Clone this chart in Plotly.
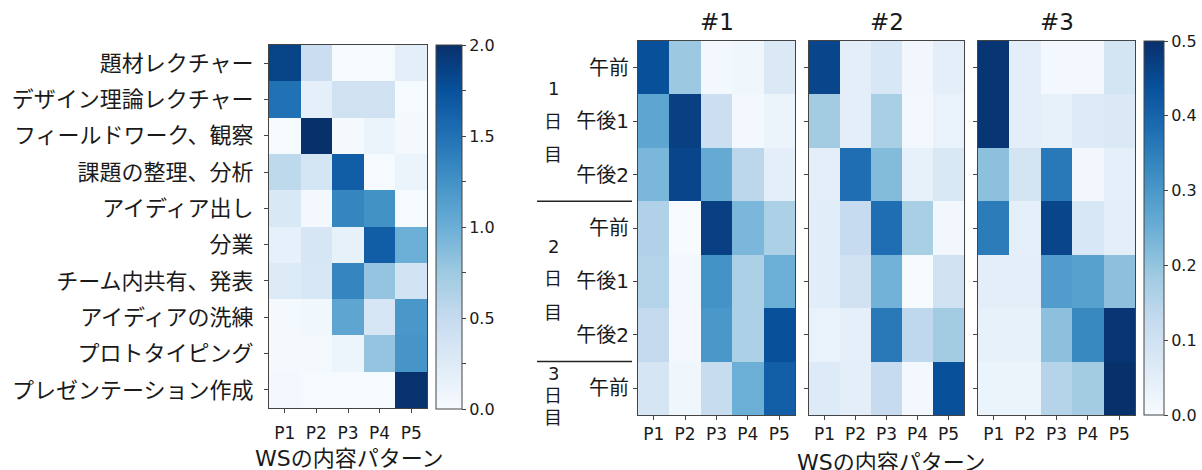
import plotly.graph_objects as go

W, H = 1202, 470

# ---- data -------------------------------------------------------------
patterns = ["P1", "P2", "P3", "P4", "P5"]

activities = [
    "題材レクチャー", "デザイン理論レクチャー", "フィールドワーク、観察",
    "課題の整理、分析", "アイディア出し", "分業", "チーム内共有、発表",
    "アイディアの洗練", "プロトタイピング", "プレゼンテーション作成",
]
activity_vals = [
    [1.85, 0.45, 0.02, 0.02, 0.20],
    [1.50, 0.18, 0.40, 0.40, 0.02],
    [0.02, 2.00, 0.03, 0.12, 0.03],
    [0.55, 0.35, 1.65, 0.02, 0.12],
    [0.30, 0.05, 1.35, 1.25, 0.02],
    [0.17, 0.33, 0.16, 1.65, 1.00],
    [0.27, 0.32, 1.35, 0.80, 0.37],
    [0.03, 0.07, 1.08, 0.33, 1.20],
    [0.03, 0.03, 0.10, 0.80, 1.22],
    [0.04, 0.02, 0.02, 0.02, 1.98],
]

sessions = ["午前", "午後1", "午後2", "午前", "午後1", "午後2", "午前"]
day_names = ["1", "2", "3"]
ws_titles = ["#1", "#2", "#3"]

ws1 = [
    [0.44, 0.19, 0.01, 0.02, 0.07],
    [0.27, 0.47, 0.11, 0.01, 0.03],
    [0.23, 0.46, 0.26, 0.14, 0.05],
    [0.16, 0.00, 0.47, 0.23, 0.165],
    [0.155, 0.01, 0.31, 0.165, 0.25],
    [0.13, 0.01, 0.30, 0.165, 0.44],
    [0.085, 0.02, 0.12, 0.25, 0.41],
]
ws2 = [
    [0.46, 0.05, 0.08, 0.015, 0.05],
    [0.18, 0.05, 0.17, 0.01, 0.035],
    [0.05, 0.38, 0.22, 0.04, 0.075],
    [0.055, 0.125, 0.38, 0.17, 0.015],
    [0.055, 0.10, 0.24, 0.005, 0.10],
    [0.035, 0.045, 0.36, 0.135, 0.18],
    [0.065, 0.05, 0.125, 0.01, 0.44],
]
ws3 = [
    [0.49, 0.05, 0.01, 0.01, 0.09],
    [0.49, 0.05, 0.04, 0.065, 0.07],
    [0.21, 0.09, 0.36, 0.015, 0.045],
    [0.355, 0.045, 0.46, 0.08, 0.05],
    [0.05, 0.05, 0.29, 0.28, 0.21],
    [0.04, 0.04, 0.21, 0.33, 0.49],
    [0.03, 0.03, 0.15, 0.18, 0.50],
]

# ---- styling ----------------------------------------------------------
BLUES = [
    [0.0, "#f7fbff"], [0.125, "#deebf7"], [0.25, "#c6dbef"],
    [0.375, "#9ecae1"], [0.5, "#6baed6"], [0.625, "#4292c6"],
    [0.75, "#2171b5"], [0.875, "#08519c"], [1.0, "#08306b"],
]
FONT = "DejaVu Sans, Noto Sans CJK JP, sans-serif"
TXT = "#1a1a1a"
FRAME = "#444444"


def px(x):
    return x / W


def py(y):
    return 1 - y / H


fig = go.Figure()

# left panel: activity vs pattern
fig.add_trace(go.Heatmap(
    z=activity_vals, x=list(range(len(patterns))), y=list(range(len(activities))),
    coloraxis="coloraxis", xaxis="x", yaxis="y",
))
# right panels: session vs pattern for each workshop
for i, z in enumerate([ws1, ws2, ws3]):
    fig.add_trace(go.Heatmap(
        z=z, x=list(range(len(patterns))), y=list(range(len(sessions))),
        coloraxis="coloraxis2", xaxis=f"x{i + 2}", yaxis=f"y{i + 2}",
    ))

axis_common = dict(
    showline=True, mirror=True, linecolor=FRAME, linewidth=1,
    ticks="outside", ticklen=4, tickwidth=1, tickcolor=FRAME,
    showgrid=False, zeroline=False,
    tickfont=dict(family=FONT, size=17, color=TXT),
)
x_common = dict(
    axis_common, range=[-0.5, len(patterns) - 0.5],
    tickvals=list(range(len(patterns))), ticktext=patterns,
)


def colorbar(x0, top, bottom, width, vals, texts):
    return dict(
        x=px(x0), xanchor="left", xref="paper", xpad=0,
        y=py(bottom), yanchor="bottom", yref="paper", ypad=0,
        len=(bottom - top) / H, lenmode="fraction",
        thickness=width, thicknessmode="pixels",
        outlinewidth=1, outlinecolor=FRAME,
        tickvals=vals, ticktext=texts,
        ticks="outside", ticklen=4, tickcolor=FRAME,
        tickfont=dict(family=FONT, size=16, color=TXT),
    )


layout = dict(
    width=W, height=H, margin=dict(l=0, r=0, t=0, b=0),
    paper_bgcolor="white", plot_bgcolor="white",
    font=dict(family=FONT, color=TXT),
    coloraxis=dict(
        colorscale=BLUES, cmin=0, cmax=2.0,
        colorbar=colorbar(
            436, 45, 409, 26,
            [0, 0.25, 0.5, 0.75, 1.0, 1.25, 1.5, 1.75, 2.0],
            ["0.0", "", "0.5", "", "1.0", "", "1.5", "", "2.0"],
        ),
    ),
    coloraxis2=dict(
        colorscale=BLUES, cmin=0, cmax=0.5,
        colorbar=colorbar(
            1144, 41, 415, 20,
            [0, 0.1, 0.2, 0.3, 0.4, 0.5],
            ["0.0", "0.1", "0.2", "0.3", "0.4", "0.5"],
        ),
    ),
)

layout["xaxis"] = dict(x_common, domain=[px(269), px(427)], anchor="y",
                       ticklabelstandoff=6)
layout["yaxis"] = dict(
    axis_common, domain=[py(408), py(45)], anchor="x",
    range=[len(activities) - 0.5, -0.5],
    tickvals=list(range(len(activities))), ticktext=activities,
    tickfont=dict(family=FONT, size=22, color=TXT),
    ticklabelstandoff=6,
)

PANEL_TOP, PANEL_BOTTOM = 41, 415
panel_x = [(638, 795), (809, 964), (978, 1135)]
for i, (x0, x1) in enumerate(panel_x):
    n = i + 2
    layout[f"xaxis{n}"] = dict(x_common, domain=[px(x0), px(x1)], anchor=f"y{n}")
    layout[f"yaxis{n}"] = dict(
        axis_common, domain=[py(PANEL_BOTTOM), py(PANEL_TOP)], anchor=f"x{n}",
        range=[len(sessions) - 0.5, -0.5],
        tickvals=list(range(len(sessions))),
        ticktext=sessions if i == 0 else [""] * len(sessions),
        tickfont=dict(family=FONT, size=20, color=TXT),
    )

fig.update_layout(**layout)


def row_to_paper(r):
    """Session-row coordinate -> paper y for the right-hand panels."""
    row_h = (PANEL_BOTTOM - PANEL_TOP) / len(sessions)
    return py(PANEL_TOP + row_h * (r + 0.5))


annotations = []
# workshop titles
for title, (x0, x1) in zip(ws_titles, panel_x):
    annotations.append(dict(
        text=title, x=px((x0 + x1) / 2), y=py(22), xref="paper", yref="paper",
        showarrow=False, font=dict(family=FONT, size=23, color=TXT),
        xanchor="center", yanchor="middle",
    ))
# x-axis titles
for cx, cy in [(349, 458), (891, 462)]:
    annotations.append(dict(
        text="WSの内容パターン", x=px(cx), y=py(cy), xref="paper", yref="paper",
        showarrow=False, font=dict(family=FONT, size=22, color=TXT),
        xanchor="center", yanchor="middle",
    ))

# stacked day labels (number, 日, 目) beside session rows
day_rows = [
    (day_names[0], [0.38, 1.0, 1.63]),
    (day_names[1], [3.34, 3.95, 4.59]),
    (day_names[2], [5.72, 6.13, 6.54]),
]
for name, rows in day_rows:
    for ch, r in zip([name, "日", "目"], rows):
        annotations.append(dict(
            text=ch, x=px(553), y=row_to_paper(r), xref="paper", yref="paper",
            showarrow=False, font=dict(family=FONT, size=18, color=TXT),
            xanchor="center", yanchor="middle",
        ))
fig.update_layout(annotations=annotations)

# separators between days
for r in [2.5, 5.5]:
    fig.add_shape(
        type="line", xref="paper", yref="y2",
        x0=px(537), x1=px(632), y0=r, y1=r,
        line=dict(color="#222222", width=1.5),
    )

fig.write_html("out.html")
